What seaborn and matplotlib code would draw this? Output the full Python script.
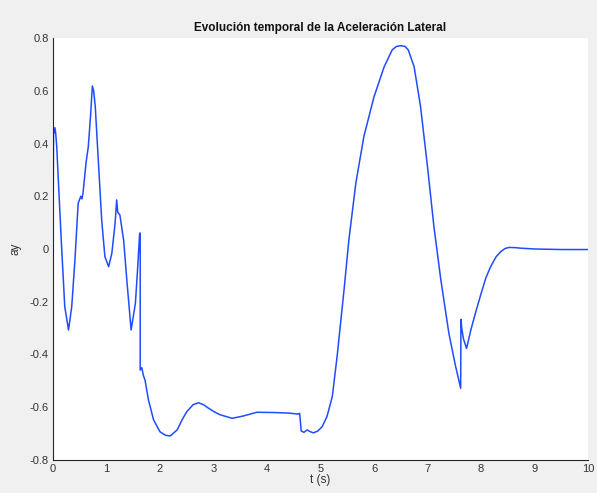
import matplotlib
matplotlib.use("Agg")
import matplotlib.pyplot as plt
import pandas as pd
import seaborn as sns
from matplotlib.ticker import FuncFormatter

# time samples (s) and lateral acceleration
t = [0.0, 0.01, 0.02, 0.035, 0.05, 0.07, 0.10, 0.16, 0.22, 0.29, 0.35, 0.41,
     0.47, 0.52, 0.54, 0.56, 0.62, 0.66, 0.70, 0.736, 0.76, 0.79, 0.85, 0.91,
     0.97, 1.04, 1.10, 1.16, 1.19, 1.21, 1.25, 1.32, 1.38, 1.46, 1.54, 1.58,
     1.62, 1.63, 1.63, 1.66, 1.69, 1.72, 1.785, 1.88, 2.0, 2.1, 2.19, 2.32,
     2.42, 2.50, 2.62, 2.72, 2.81, 2.91, 3.02, 3.13, 3.35, 3.56, 3.81, 4.13,
     4.40, 4.59, 4.61, 4.64, 4.69, 4.75, 4.80, 4.87, 4.95, 5.03, 5.12, 5.22,
     5.31, 5.44, 5.53, 5.66, 5.81, 6.00, 6.19, 6.34, 6.42, 6.50, 6.58, 6.64,
     6.75, 6.87, 7.00, 7.12, 7.25, 7.40, 7.52, 7.62, 7.625, 7.64, 7.67, 7.73,
     7.81, 7.90, 8.00, 8.09, 8.18, 8.28, 8.37, 8.45, 8.53, 8.65, 8.75, 9.00,
     9.50, 10.0]
ay = [0.0, 0.45, 0.44, 0.46, 0.44, 0.388, 0.26, 0.01, -0.219, -0.307, -0.219,
      -0.042, 0.173, 0.20, 0.19, 0.21, 0.331, 0.388, 0.50, 0.618, 0.60, 0.54,
      0.325, 0.11, -0.029, -0.067, -0.016, 0.097, 0.186, 0.14, 0.129, 0.034,
      -0.118, -0.307, -0.206, -0.08, 0.06, 0.06, -0.459, -0.45, -0.48, -0.497,
      -0.573, -0.648, -0.693, -0.706, -0.709, -0.686, -0.645, -0.617, -0.59,
      -0.583, -0.59, -0.604, -0.618, -0.629, -0.642, -0.633, -0.619, -0.62,
      -0.622, -0.626, -0.623, -0.69, -0.695, -0.686, -0.692, -0.697, -0.69,
      -0.674, -0.636, -0.56, -0.408, -0.155, 0.034, 0.249, 0.426, 0.577, 0.691,
      0.755, 0.768, 0.771, 0.768, 0.755, 0.691, 0.54, 0.312, 0.085, -0.118,
      -0.32, -0.44, -0.528, -0.267, -0.30, -0.339, -0.377, -0.307, -0.24,
      -0.17, -0.11, -0.067, -0.03, -0.01, 0.002, 0.006, 0.005, 0.003, 0.0,
      -0.002, -0.002]

xticks = list(range(0, 11))
yticks = [-0.8, -0.6, -0.4, -0.2, 0, 0.2, 0.4, 0.6, 0.8]

df = pd.DataFrame({"t": t, "ay": ay})

sns.set_style("white")
plt.rcParams["font.family"] = ["Liberation Sans", "DejaVu Sans"]
plt.rcParams["axes.unicode_minus"] = False

fig = plt.figure(figsize=(5.97, 4.93), dpi=100, facecolor="#f0f0f0")
ax = fig.add_axes([53 / 597, 33 / 493, 535 / 597, 422 / 493])
ax.set_facecolor("white")

sns.lineplot(data=df, x="t", y="ay", sort=False, estimator=None,
             color="#1f4cff", linewidth=1.1, ax=ax)

ax.set_xlim(0, 10)
ax.set_ylim(-0.8, 0.8)
ax.set_xticks(xticks)
ax.set_yticks(yticks)
ax.yaxis.set_major_formatter(FuncFormatter(lambda v, p: "0" if abs(v) < 1e-9 else f"{v:.1f}"))

for side in ["top", "right"]:
    ax.spines[side].set_visible(False)
for side in ["left", "bottom"]:
    ax.spines[side].set_color("#262626")
    ax.spines[side].set_linewidth(0.8)

ax.tick_params(direction="in", length=4, width=0.8, colors="#262626",
               labelsize=8, labelcolor="#333333", pad=3)

ax.set_xlabel("t (s)", fontsize=8.5, color="#333333", labelpad=0)
ax.set_ylabel("ay", fontsize=8.5, color="#333333", labelpad=6)
ax.set_title("Evolución temporal de la Aceleración Lateral", fontsize=8.5,
             fontweight="bold", color="#111111", pad=5)

fig.savefig("out.png", dpi=100, facecolor=fig.get_facecolor())
